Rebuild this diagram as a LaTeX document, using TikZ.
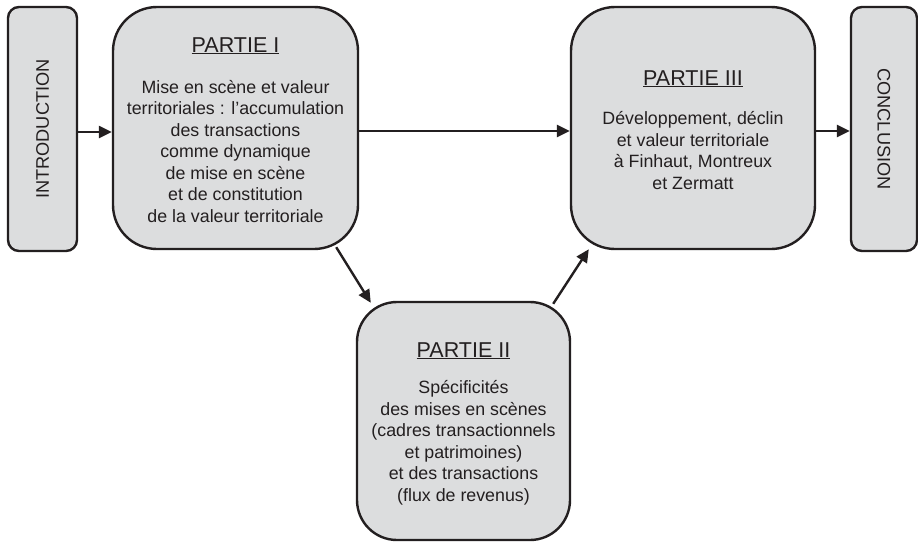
\documentclass[tikz,border=0pt]{standalone}
\usepackage{fontspec}
\setmainfont{Liberation Sans}
\usetikzlibrary{arrows.meta,calc}
\definecolor{boxfill}{RGB}{220,221,222}
\definecolor{ink}{RGB}{35,31,32}
\tikzset{
  box/.style={draw=ink, line width=2.4pt, fill=boxfill, inner sep=0pt},
  bigbox/.style={box, rounded corners=44pt},
  smallbox/.style={box, rounded corners=11pt},
  arr/.style={draw=ink, line width=2.4pt, -{Triangle[length=13pt,width=12pt]}},
  titletxt/.style={font=\fontsize{21.5}{26}\selectfont, text=ink, inner sep=0pt, anchor=base},
  bodytxt/.style={font=\fontsize{17.8}{21.5}\selectfont, text=ink, inner sep=0pt, align=center, anchor=base},
  sidetxt/.style={font=\fontsize{18.2}{21}\selectfont, text=ink, inner sep=0pt}
}
\begin{document}
\begin{tikzpicture}[x=1pt,y=-1pt]
\path[use as bounding box] (0,0) rectangle (918,542);
% boxes
\node[smallbox, minimum width=69pt, minimum height=244pt] (intro) at (42.5,129) {};
\node[bigbox, minimum width=245pt, minimum height=242pt] (p1) at (235.5,128) {};
\node[bigbox, minimum width=244pt, minimum height=242pt] (p3) at (693,128) {};
\node[smallbox, minimum width=66pt, minimum height=244pt] (concl) at (884,129) {};
\node[bigbox, rounded corners=40pt, minimum width=213pt, minimum height=238pt] (p2) at (463.5,421) {};
% side texts
\node[sidetxt, rotate=90] (introtxt) at (intro.center) {INTRODUCTION};
\node[sidetxt, rotate=-90] (concltxt) at (concl.center) {CONCLUSION};
% Partie I (anchor = baseline of last line)
\node[titletxt] (p1title) at (235.5,52) {\underline{PARTIE I}};
\node[bodytxt] (p1body) at (235.5,222) {Mise en scène et valeur\\territoriales : l’accumulation\\des transactions\\comme dynamique\\de mise en scène\\et de constitution\\de la valeur territoriale};
% Partie III
\node[titletxt] (p3title) at (693,85) {\underline{PARTIE III}};
\node[bodytxt] (p3body) at (693,189) {Développement, déclin\\et valeur territoriale\\à Finhaut, Montreux\\et Zermatt};
% Partie II
\node[titletxt] (p2title) at (463.5,357) {\underline{PARTIE II}};
\node[bodytxt] (p2body) at (463.5,501) {Spécificités\\des mises en scènes\\(cadres transactionnels\\et patrimoines)\\et des transactions\\(flux de revenus)};
% connectors
\draw[arr] ([yshift=-3pt]intro.east) -- ([yshift=-3pt]intro.east -| p1.west);
\draw[arr] ([yshift=-3pt]p1.east) -- ([yshift=-3pt]p1.east -| p3.west);
\draw[arr] ([yshift=-3pt]p3.east) -- ([yshift=-3pt]p3.east -| concl.west);
\draw[arr] ($(p1.south east)+(-23,-3)$) -- ($(p2.north west)+(15,2)$);
\draw[arr] ($(p2.north east)+(-18,3)$) -- ($(p3.south west)+(19,-1)$);
\end{tikzpicture}
\end{document}
